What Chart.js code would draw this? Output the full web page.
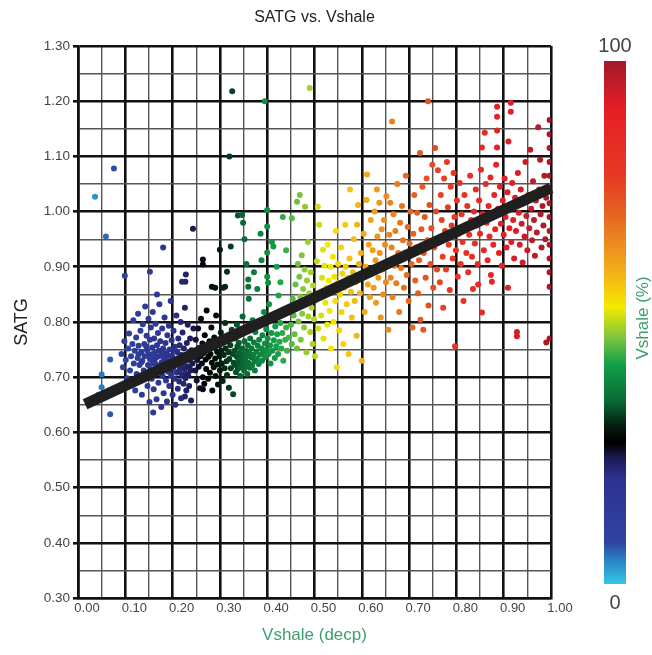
<!DOCTYPE html>
<html><head><meta charset="utf-8">
<script src="https://cdn.jsdelivr.net/npm/chart.js@4.4.1/dist/chart.umd.min.js"></script>
<style>html,body{margin:0;padding:0;background:#fff;}canvas{display:block;}</style>
</head><body>
<canvas id="c" width="652" height="655"></canvas>
<script>
const chartTitle = 'SATG vs. Vshale';
const xAxisTitle = 'Vshale (decp)';
const yAxisTitle = 'SATG';
const colorbarTitle = 'Vshale (%)';
const colorbarMinLabel = '0';
const colorbarMaxLabel = '100';
const xRange = [0, 1];
const yRange = [0.3, 1.3];
const tickStep = 0.05;

// regression (trend) line end points
const trendX = [0.015, 1.0];
const trendY = [0.651, 1.043];

// scattered points [Vshale, SATG]
const outlierPoints = [[0.036,1.027],[0.059,0.955],[0.076,1.078],[0.050,0.705],[0.050,0.682],[0.043,0.668],[0.068,0.732],[0.068,0.633],[0.159,0.636],[0.099,0.884],[0.152,0.891],[0.180,0.935],[0.228,0.886],[0.227,0.873],[0.220,0.873],[0.167,0.850],[0.243,0.969],[0.264,0.913],[0.264,0.904],[0.300,0.931],[0.323,0.937],[0.315,0.891],[0.283,0.864],[0.311,0.864],[0.290,0.862],[0.307,0.862],[0.326,1.218],[0.320,1.100],[0.338,0.993],[0.395,1.200],[0.490,1.224],[0.664,1.163],[0.740,1.200],[0.328,0.669],[0.264,0.678],[0.226,0.665]];

const blueGroup = [[0.092,0.742],[0.095,0.718],[0.098,0.765],[0.101,0.731],[0.104,0.698],[0.106,0.752],[0.108,0.779],[0.110,0.712],[0.112,0.738],[0.113,0.690],[0.115,0.760],[0.117,0.803],[0.118,0.725],[0.120,0.748],[0.121,0.676],[0.123,0.772],[0.124,0.706],[0.126,0.735],[0.127,0.815],[0.128,0.757],[0.130,0.722],[0.131,0.693],[0.132,0.784],[0.134,0.745],[0.135,0.668],[0.136,0.730],[0.137,0.796],[0.139,0.712],[0.140,0.760],[0.141,0.738],[0.142,0.828],[0.143,0.701],[0.145,0.775],[0.146,0.749],[0.147,0.684],[0.148,0.722],[0.149,0.806],[0.150,0.741],[0.151,0.655],[0.152,0.768],[0.153,0.715],[0.154,0.790],[0.155,0.732],[0.156,0.697],[0.157,0.754],[0.158,0.818],[0.159,0.725],[0.160,0.678],[0.161,0.770],[0.162,0.744],[0.163,0.708],[0.164,0.797],[0.165,0.736],[0.166,0.660],[0.167,0.758],[0.168,0.721],[0.169,0.780],[0.170,0.690],[0.171,0.748],[0.172,0.832],[0.173,0.714],[0.174,0.765],[0.175,0.739],[0.176,0.646],[0.177,0.727],[0.178,0.788],[0.179,0.702],[0.180,0.752],[0.181,0.671],[0.182,0.735],[0.183,0.808],[0.184,0.718],[0.185,0.762],[0.186,0.694],[0.187,0.743],[0.188,0.656],[0.189,0.776],[0.190,0.729],[0.191,0.710],[0.192,0.793],[0.193,0.684],[0.194,0.750],[0.195,0.722],[0.196,0.838],[0.197,0.703],[0.198,0.767],[0.199,0.738],[0.200,0.668],[0.201,0.716],[0.202,0.784],[0.203,0.731],[0.204,0.697],[0.205,0.755],[0.206,0.650],[0.207,0.724],[0.208,0.812],[0.209,0.708],[0.210,0.745],[0.211,0.679],[0.212,0.770],[0.213,0.733],[0.214,0.692],[0.215,0.758],[0.216,0.717],[0.217,0.800],[0.218,0.662],[0.219,0.740],[0.220,0.705],[0.221,0.781],[0.222,0.726],[0.223,0.688],[0.224,0.752],[0.225,0.715],[0.226,0.826],[0.227,0.698],[0.228,0.737],[0.229,0.676],[0.230,0.762],[0.231,0.720],[0.232,0.795],[0.233,0.703],[0.234,0.744],[0.235,0.684],[0.236,0.731],[0.237,0.770],[0.238,0.712],[0.239,0.658],[0.240,0.749],[0.242,0.725],[0.244,0.788],[0.128,0.741],[0.134,0.727],[0.144,0.756],[0.152,0.733],[0.158,0.742],[0.162,0.728],[0.168,0.737],[0.174,0.722],[0.178,0.745],[0.184,0.731],[0.188,0.716],[0.192,0.739],[0.197,0.724],[0.203,0.748],[0.208,0.729],[0.214,0.712],[0.219,0.723],[0.224,0.735],[0.230,0.706],[0.236,0.717]];

const blackGroup = [[0.246,0.742],[0.248,0.712],[0.249,0.768],[0.251,0.694],[0.252,0.731],[0.254,0.788],[0.255,0.719],[0.256,0.753],[0.258,0.680],[0.259,0.738],[0.260,0.806],[0.262,0.725],[0.263,0.761],[0.264,0.700],[0.266,0.744],[0.267,0.688],[0.268,0.776],[0.270,0.732],[0.271,0.715],[0.272,0.821],[0.274,0.750],[0.275,0.697],[0.276,0.737],[0.278,0.765],[0.279,0.708],[0.280,0.742],[0.282,0.790],[0.283,0.726],[0.284,0.676],[0.286,0.755],[0.287,0.718],[0.288,0.772],[0.290,0.734],[0.291,0.702],[0.292,0.812],[0.294,0.746],[0.295,0.723],[0.296,0.687],[0.298,0.760],[0.299,0.738],[0.300,0.712],[0.302,0.781],[0.303,0.748],[0.304,0.725],[0.306,0.693],[0.307,0.764],[0.308,0.740],[0.310,0.716],[0.311,0.798],[0.312,0.752],[0.314,0.729],[0.315,0.704],[0.316,0.770],[0.318,0.745],[0.319,0.681],[0.320,0.733],[0.322,0.758],[0.323,0.716],[0.325,0.786],[0.327,0.742],[0.329,0.726]];

const greenGroup = [[0.331,0.748],[0.332,0.722],[0.333,0.770],[0.334,0.709],[0.335,0.738],[0.336,0.795],[0.337,0.756],[0.338,0.715],[0.339,0.731],[0.340,0.762],[0.341,0.724],[0.342,0.744],[0.343,0.702],[0.344,0.778],[0.345,0.735],[0.346,0.718],[0.347,0.752],[0.348,0.810],[0.349,0.727],[0.350,0.741],[0.351,0.712],[0.352,0.765],[0.353,0.733],[0.354,0.720],[0.355,0.748],[0.356,0.788],[0.357,0.738],[0.358,0.706],[0.359,0.758],[0.360,0.726],[0.361,0.842],[0.362,0.745],[0.363,0.717],[0.364,0.770],[0.366,0.736],[0.367,0.752],[0.368,0.721],[0.369,0.803],[0.370,0.740],[0.372,0.763],[0.373,0.729],[0.374,0.712],[0.375,0.782],[0.377,0.746],[0.378,0.734],[0.379,0.860],[0.380,0.757],[0.382,0.724],[0.383,0.768],[0.385,0.741],[0.386,0.796],[0.388,0.752],[0.389,0.730],[0.390,0.776],[0.392,0.745],[0.393,0.818],[0.395,0.761],[0.396,0.736],[0.398,0.787],[0.399,0.750],[0.401,0.770],[0.403,0.742],[0.404,0.832],[0.406,0.758],[0.407,0.725],[0.409,0.780],[0.411,0.748],[0.412,0.806],[0.414,0.767],[0.416,0.735],[0.417,0.792],[0.419,0.756],[0.421,0.778],[0.423,0.742],[0.424,0.848],[0.426,0.764],[0.428,0.798],[0.430,0.752],[0.432,0.780],[0.434,0.730],[0.436,0.815],[0.438,0.768],[0.440,0.790],[0.442,0.748],[0.444,0.826],[0.446,0.772],[0.347,0.994],[0.349,0.980],[0.360,0.877],[0.360,0.864],[0.400,1.003],[0.400,0.973],[0.410,0.945],[0.413,0.937],[0.400,0.926],[0.400,0.882],[0.402,0.871],[0.433,0.990],[0.452,0.988],[0.463,1.018],[0.469,1.030],[0.480,1.009],[0.356,0.905],[0.372,0.890],[0.388,0.912],[0.420,0.900],[0.428,0.872],[0.352,0.950],[0.386,0.960],[0.440,0.930]];

const yellowGroup = [[0.450,0.795],[0.452,0.760],[0.454,0.842],[0.456,0.812],[0.458,0.778],[0.460,0.868],[0.461,0.830],[0.463,0.752],[0.465,0.905],[0.466,0.801],[0.468,0.882],[0.470,0.846],[0.471,0.768],[0.473,0.921],[0.474,0.815],[0.476,0.860],[0.478,0.790],[0.479,0.895],[0.481,0.836],[0.483,0.745],[0.484,0.875],[0.486,0.945],[0.487,0.810],[0.489,0.852],[0.491,0.782],[0.492,0.890],[0.494,0.826],[0.496,0.760],[0.497,0.866],[0.499,0.805],[0.501,0.738],[0.503,0.840],[0.505,0.910],[0.507,1.009],[0.508,0.788],[0.510,0.976],[0.512,0.850],[0.514,0.812],[0.516,0.880],[0.518,0.931],[0.519,0.770],[0.521,0.902],[0.523,0.835],[0.525,0.862],[0.527,0.795],[0.528,0.940],[0.530,0.875],[0.532,0.820],[0.534,0.900],[0.535,0.752],[0.537,0.858],[0.539,0.918],[0.540,0.800],[0.542,0.882],[0.544,0.838],[0.545,0.965],[0.547,0.718],[0.548,0.870],[0.550,0.905],[0.552,0.785],[0.554,0.850],[0.556,0.935],[0.557,0.818],[0.559,0.888],[0.561,0.760],[0.563,0.862],[0.565,0.976],[0.566,0.900],[0.568,0.832],[0.570,0.880],[0.572,0.742],[0.574,0.915],[0.575,1.040],[0.577,0.855],[0.579,0.808],[0.581,0.890],[0.583,0.950],[0.585,0.838],[0.587,0.872],[0.589,0.775],[0.590,0.976],[0.592,1.012],[0.594,0.905],[0.596,0.852],[0.598,0.925],[0.600,0.730],[0.602,0.880],[0.604,0.960],[0.606,0.818],[0.608,0.900],[0.610,1.021],[0.611,1.067],[0.613,0.868],[0.615,0.940],[0.617,0.845],[0.619,0.985]];

const orangeGroup = [[0.621,0.890],[0.623,0.930],[0.625,0.862],[0.627,1.000],[0.629,0.912],[0.630,0.835],[0.632,1.040],[0.633,0.955],[0.635,0.880],[0.637,1.016],[0.638,0.925],[0.640,0.808],[0.642,0.968],[0.644,0.895],[0.645,0.850],[0.647,0.985],[0.649,0.940],[0.651,0.872],[0.652,1.028],[0.654,0.910],[0.656,0.786],[0.658,0.958],[0.660,1.016],[0.661,0.880],[0.663,0.935],[0.665,0.845],[0.667,0.995],[0.669,0.902],[0.671,0.965],[0.673,0.870],[0.675,1.050],[0.677,0.925],[0.679,0.818],[0.681,0.980],[0.683,0.898],[0.685,1.010],[0.687,0.948],[0.689,0.862],[0.691,0.925],[0.693,1.065],[0.695,0.885],[0.697,0.972],[0.699,0.838],[0.701,0.942],[0.703,1.000],[0.705,0.905],[0.707,0.790],[0.709,0.960],[0.711,1.030],[0.713,0.875],[0.715,0.935],[0.717,0.998],[0.719,0.852],[0.721,0.912],[0.723,1.106],[0.724,0.804],[0.726,0.968],[0.728,1.045],[0.730,0.786],[0.731,0.925],[0.733,0.990],[0.735,0.880],[0.737,1.060],[0.739,0.948],[0.741,0.830],[0.743,1.012],[0.745,0.905],[0.747,0.970],[0.749,1.085],[0.751,0.862],[0.753,0.935],[0.755,1.115],[0.757,1.000],[0.759,0.895],[0.761,1.075],[0.763,0.950],[0.765,0.872],[0.767,1.030],[0.769,0.985],[0.771,0.918],[0.772,0.826],[0.774,1.060],[0.776,0.965],[0.778,0.895],[0.780,1.090],[0.782,1.008],[0.784,0.940],[0.786,0.858],[0.788,1.045],[0.790,0.975],[0.792,0.915],[0.794,1.070],[0.796,0.990],[0.797,0.756],[0.799,0.930],[0.801,1.020],[0.803,0.882],[0.805,0.960],[0.807,1.052],[0.809,0.905],[0.811,0.995],[0.813,0.945],[0.815,0.838],[0.817,1.030],[0.819,0.972],[0.821,0.925],[0.823,1.010],[0.825,0.890],[0.827,0.958],[0.829,1.065],[0.831,0.985],[0.833,0.918],[0.835,0.860],[0.837,1.000],[0.839,0.942]];

const redGroup = [[0.841,1.040],[0.843,0.975],[0.845,0.905],[0.846,0.868],[0.848,1.020],[0.850,0.960],[0.852,1.076],[0.854,0.817],[0.854,1.116],[0.856,0.995],[0.858,0.930],[0.860,1.143],[0.862,1.050],[0.864,0.980],[0.866,0.912],[0.868,1.010],[0.870,0.955],[0.872,1.062],[0.873,0.885],[0.875,0.873],[0.876,0.995],[0.878,0.940],[0.880,1.030],[0.882,0.968],[0.884,1.085],[0.886,1.190],[0.886,1.172],[0.886,1.147],[0.886,1.116],[0.888,1.005],[0.890,0.925],[0.892,1.045],[0.894,0.978],[0.896,0.902],[0.898,1.020],[0.900,0.958],[0.902,1.060],[0.904,0.990],[0.906,0.935],[0.908,1.035],[0.909,0.862],[0.910,1.127],[0.912,0.970],[0.914,1.008],[0.915,1.197],[0.915,1.181],[0.916,0.945],[0.918,1.052],[0.920,0.985],[0.922,0.915],[0.924,1.025],[0.926,0.965],[0.928,0.774],[0.928,0.782],[0.930,1.070],[0.932,0.998],[0.934,0.940],[0.936,1.040],[0.938,0.978],[0.940,0.908],[0.942,1.015],[0.944,0.955],[0.946,1.090],[0.948,0.992],[0.950,0.930],[0.952,1.030],[0.954,0.970],[0.956,1.112],[0.958,1.005],[0.960,0.948],[0.962,1.055],[0.964,0.985],[0.966,0.920],[0.968,1.020],[0.970,0.962],[0.973,1.153],[0.975,1.040],[0.977,1.094],[0.978,0.995],[0.980,0.935],[0.982,1.010],[0.984,0.975],[0.986,1.065],[0.988,0.950],[0.990,1.025],[0.990,0.763],[0.997,1.166],[0.997,1.140],[0.997,1.115],[0.997,1.090],[0.997,1.065],[0.997,1.040],[0.997,1.015],[0.997,0.990],[0.997,0.965],[0.997,0.940],[0.997,0.915],[0.997,0.890],[0.997,0.864],[0.997,0.770]];

// colour map (Vshale fraction -> colour)
const cmapStops = [0.00, 0.04, 0.08, 0.20, 0.24, 0.27, 0.30, 0.35, 0.42, 0.47, 0.53, 0.59, 0.65, 0.71, 0.78, 0.91, 1.00];
const cmapColors = ['#35c6e6','#2a8cc8','#2e45a0','#2e3290','#1c1c55','#000000','#031a0c','#0a6a35','#12a048','#7cc440','#f4ea00','#f4b418','#ec8c20','#e46222','#e63a22','#e41e26','#a21a2a'];

function hexToRgb(h){return [parseInt(h.slice(1,3),16),parseInt(h.slice(3,5),16),parseInt(h.slice(5,7),16)];}
function colorFor(v){
  v = Math.max(0, Math.min(1, v));
  for (let i = 0; i < cmapStops.length - 1; i++) {
    if (v <= cmapStops[i+1]) {
      const t = (v - cmapStops[i]) / (cmapStops[i+1] - cmapStops[i]);
      const a = hexToRgb(cmapColors[i]), b = hexToRgb(cmapColors[i+1]);
      return 'rgb(' + a.map((c,k)=>Math.round(c + (b[k]-c)*t)).join(',') + ')';
    }
  }
  return cmapColors[cmapColors.length-1];
}

const allPoints = [].concat(outlierPoints, blueGroup, blackGroup, greenGroup, yellowGroup, orangeGroup, redGroup)
  .map(p => ({x: p[0], y: p[1]}));
const trendPoints = trendX.map((x, i) => ({x: x, y: trendY[i]}));

const FONT = "'Liberation Sans', Arial, sans-serif";
const isMajor = v => Math.round(v * 20) % 2 === 0;

const decorPlugin = {
  id: 'decor',
  afterDraw(chart) {
    const ctx = chart.ctx, ca = chart.chartArea;
    ctx.save();
    // title
    ctx.fillStyle = '#222';
    ctx.font = '16px ' + FONT;
    ctx.textAlign = 'center';
    ctx.textBaseline = 'middle';
    ctx.fillText(chartTitle, (ca.left + ca.right) / 2, 18);
    // colour bar
    const bx = 604, bw = 22, bt = 61, bb = 584;
    const g = ctx.createLinearGradient(0, bb, 0, bt);
    cmapStops.forEach((s, i) => g.addColorStop(s, cmapColors[i]));
    ctx.fillStyle = g;
    ctx.fillRect(bx, bt, bw, bb - bt);
    ctx.fillStyle = '#444';
    ctx.font = '20px ' + FONT;
    ctx.fillText(colorbarMaxLabel, bx + bw / 2, 46);
    ctx.fillText(colorbarMinLabel, bx + bw / 2, 603);
    ctx.translate(643, 318);
    ctx.rotate(-Math.PI / 2);
    ctx.fillStyle = '#3f9e70';
    ctx.font = '17px ' + FONT;
    ctx.fillText(colorbarTitle, 0, 0);
    ctx.restore();
  }
};

new Chart(document.getElementById('c'), {
  type: 'scatter',
  data: {
    datasets: [
      { label: 'trend', data: trendPoints, showLine: true, borderColor: '#1f1f1f', borderWidth: 11,
        borderCapStyle: 'butt', pointRadius: 0, order: 0, clip: false },
      { label: 'SATG', data: allPoints, pointRadius: 3, borderWidth: 0,
        backgroundColor: ctx => colorFor(ctx.raw ? ctx.raw.x : 0), order: 1 }
    ]
  },
  options: {
    responsive: false,
    animation: false,
    events: [],
    layout: { padding: { left: 0, top: 46, right: 101, bottom: 0 } },
    plugins: { legend: { display: false }, tooltip: { enabled: false }, title: { display: false } },
    scales: {
      x: {
        type: 'linear', min: xRange[0], max: xRange[1],
        afterFit: s => { s.height = 57; },
        border: { color: '#111', width: 2.6 },
        grid: {
          drawTicks: false,
          color: c => isMajor(c.tick.value) ? '#111' : '#555',
          lineWidth: c => isMajor(c.tick.value) ? 2.6 : 1.4
        },
        ticks: {
          stepSize: tickStep, autoSkip: false, maxRotation: 0, padding: 3, labelOffset: 9,
          color: '#444', font: { family: FONT, size: 13 },
          callback: v => isMajor(v) ? v.toFixed(2) : ''
        },
        title: { display: true, text: xAxisTitle, color: '#3f9e70', font: { family: FONT, size: 17 },
          padding: { top: 0, bottom: 9 } }
      },
      y: {
        type: 'linear', min: yRange[0], max: yRange[1],
        afterFit: s => { s.width = 78; },
        border: { color: '#111', width: 2.6 },
        grid: {
          tickLength: 5,
          color: c => isMajor(c.tick.value) ? '#111' : '#555',
          tickColor: c => isMajor(c.tick.value) ? '#111' : 'rgba(0,0,0,0)',
          lineWidth: c => isMajor(c.tick.value) ? 2.6 : 1.4
        },
        ticks: {
          stepSize: tickStep, autoSkip: false, padding: 3,
          color: '#444', font: { family: FONT, size: 13.5 },
          callback: v => isMajor(v) ? v.toFixed(2) : ''
        },
        title: { display: true, text: yAxisTitle, color: '#222', font: { family: FONT, size: 18 },
          padding: { top: 11, bottom: 0 } }
      }
    }
  },
  plugins: [decorPlugin]
});
</script>
</body></html>
